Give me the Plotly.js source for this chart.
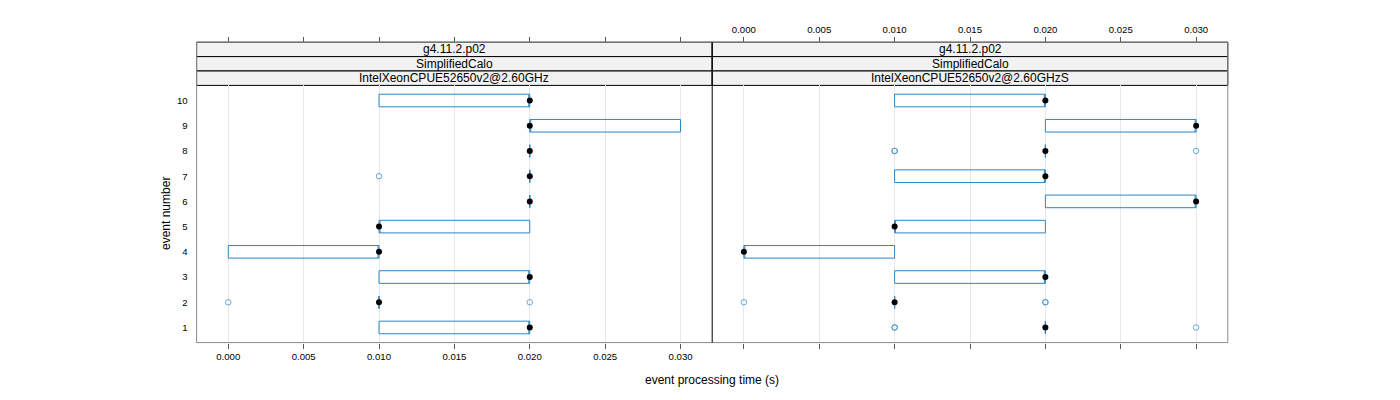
<!DOCTYPE html>
<html>
<head>
<meta charset="utf-8">
<script src="https://cdn.plot.ly/plotly-3.0.1.min.js"></script>
<style>html,body{margin:0;padding:0;background:#fff}#chart{width:1400px;height:400px}</style>
</head>
<body>
<div id="chart"></div>
<script>
// ---- data ----
const events = [1, 2, 3, 4, 5, 6, 7, 8, 9, 10];
const tickVals = [0, 0.005, 0.010, 0.015, 0.020, 0.025, 0.030];
const tickText = ["0.000", "0.005", "0.010", "0.015", "0.020", "0.025", "0.030"];

const stripLevel1 = ["g4.11.2.p02", "g4.11.2.p02"];
const stripLevel2 = ["SimplifiedCalo", "SimplifiedCalo"];
const stripLevel3 = ["IntelXeonCPUE52650v2@2.60GHz", "IntelXeonCPUE52650v2@2.60GHzS"];

// panel 1
const leftQ1     = [0.010, 0.010, 0.010, 0.000, 0.010, 0.020, 0.020, 0.020, 0.020, 0.010];
const leftMedian = [0.020, 0.010, 0.020, 0.010, 0.010, 0.020, 0.020, 0.020, 0.020, 0.020];
const leftQ3     = [0.020, 0.010, 0.020, 0.010, 0.020, 0.020, 0.020, 0.020, 0.030, 0.020];
const leftOutX   = [0.000, 0.020, 0.010];
const leftOutY   = [2, 2, 7];

// panel 2
const rightQ1     = [0.020, 0.010, 0.010, 0.000, 0.010, 0.020, 0.010, 0.020, 0.020, 0.010];
const rightMedian = [0.020, 0.010, 0.020, 0.000, 0.010, 0.030, 0.020, 0.020, 0.030, 0.020];
const rightQ3     = [0.020, 0.010, 0.020, 0.010, 0.020, 0.030, 0.020, 0.020, 0.030, 0.020];
const rightOutX   = [0.010, 0.010, 0.030, 0.000, 0.020, 0.020, 0.010, 0.010, 0.030];
const rightOutY   = [1, 1, 1, 2, 2, 2, 8, 8, 8];

// ---- layout helpers ----
const W = 1400, H = 400;
const px = v => v / W;
const py = v => 1 - v / H;
const panelL = 196.6, panelM = 712.2, panelR = 1227.8;
const panelTop = 85.4, panelBot = 342.6;
const stripEdges = [42.2, 56.6, 71.0, 85.4];
const xr = [-0.0021, 0.0321];
const boxCol = "#2e86c1";
const frameCol = "#8a8a8a";
const FONT = "Liberation Sans, Arimo, Arial, sans-serif";

function boxTrace(q1, med, q3, xa) {
  return {
    type: "box", orientation: "h", y: events,
    q1: q1, median: med, q3: q3, lowerfence: q1, upperfence: q3,
    width: 0.5, whiskerwidth: 0, boxpoints: false,
    fillcolor: "rgba(255,255,255,0)",
    line: {color: boxCol, width: 1},
    xaxis: xa, yaxis: "y", hoverinfo: "skip", showlegend: false
  };
}
function dotTrace(x, y, xa) {
  return {type: "scatter", mode: "markers", x: x, y: y, xaxis: xa, yaxis: "y",
    marker: {color: "#000", size: 6, symbol: "circle"}, showlegend: false, hoverinfo: "skip"};
}
function outTrace(x, y, xa) {
  return {type: "scatter", mode: "markers", x: x, y: y, xaxis: xa, yaxis: "y",
    marker: {color: boxCol, size: 5.5, symbol: "circle-open", opacity: 0.7,
      line: {color: boxCol, width: 1}}, showlegend: false, hoverinfo: "skip"};
}

const traces = [
  boxTrace(leftQ1, leftMedian, leftQ3, "x"),
  boxTrace(rightQ1, rightMedian, rightQ3, "x2"),
  outTrace(leftOutX, leftOutY, "x"),
  outTrace(rightOutX, rightOutY, "x2"),
  dotTrace(leftMedian, events, "x"),
  dotTrace(rightMedian, events, "x2")
];

const tickFont = {family: FONT, size: 9.6, color: "#000"};
function xAxis(dom, labels, extra) {
  return Object.assign({
    domain: dom, range: xr, tickvals: tickVals, ticktext: tickText,
    showticklabels: labels, ticks: "outside", ticklen: 5, tickcolor: "#555", tickwidth: 1,
    showgrid: true, gridcolor: "#e8e8e8", gridwidth: 1, zeroline: false, showline: false,
    tickfont: tickFont, fixedrange: true
  }, extra);
}
const domL = [px(panelL), px(panelM)];
const domR = [px(panelM), px(panelR)];
const topPos = py(stripEdges[0]);

const shapes = [];
const annotations = [];
// strips
const strips = [stripLevel1, stripLevel2, stripLevel3];
[[panelL, panelM], [panelM, panelR]].forEach((p, i) => {
  for (let k = 0; k < 3; k++) {
    shapes.push({type: "rect", xref: "paper", yref: "paper",
      x0: px(p[0]), x1: px(p[1]), y0: py(stripEdges[k + 1]), y1: py(stripEdges[k]),
      fillcolor: "#f2f2f2", line: {color: "#000", width: 1}, layer: "below"});
    annotations.push({xref: "paper", yref: "paper", x: px((p[0] + p[1]) / 2),
      y: py((stripEdges[k] + stripEdges[k + 1]) / 2), text: strips[k][i], showarrow: false,
      font: {family: FONT, size: 12, color: "#000"}, xanchor: "center", yanchor: "middle"});
  }
});
// outer frame
shapes.push({type: "rect", xref: "paper", yref: "paper", x0: px(panelL), x1: px(panelR),
  y0: py(panelBot), y1: py(stripEdges[0]), line: {color: frameCol, width: 1}, fillcolor: "rgba(0,0,0,0)"});
// panel divider
shapes.push({type: "line", xref: "paper", yref: "paper", x0: px(panelM), x1: px(panelM),
  y0: py(panelBot), y1: py(stripEdges[0]), line: {color: "#000", width: 1}});

annotations.push({xref: "paper", yref: "paper", x: px(712), y: py(380),
  text: "event processing time (s)", showarrow: false,
  font: {family: FONT, size: 12, color: "#000"}, xanchor: "center", yanchor: "middle"});
annotations.push({xref: "paper", yref: "paper", x: px(166), y: py(214),
  text: "event number", showarrow: false, textangle: -90,
  font: {family: FONT, size: 12, color: "#000"}, xanchor: "center", yanchor: "middle"});

const layout = {
  width: W, height: H, margin: {l: 0, r: 0, t: 0, b: 0},
  paper_bgcolor: "#fff", plot_bgcolor: "rgba(0,0,0,0)",
  showlegend: false,
  xaxis: xAxis(domL, true, {anchor: "y", side: "bottom"}),
  xaxis2: xAxis(domR, false, {anchor: "y", side: "bottom"}),
  xaxis3: xAxis(domL, false, {overlaying: "x", anchor: "free", position: topPos, side: "top", showgrid: false}),
  xaxis4: xAxis(domR, true, {overlaying: "x2", anchor: "free", position: topPos, side: "top", showgrid: false}),
  yaxis: {domain: [py(panelBot), py(panelTop)], range: [0.4, 10.6], tickvals: events,
    ticktext: events.map(String), ticks: "", showgrid: false, zeroline: false, showline: false,
    tickfont: tickFont, ticklabelstandoff: 8, anchor: "x", fixedrange: true},
  shapes: shapes, annotations: annotations
};

// invisible traces to activate top axes
traces.push({type: "scatter", x: [0], y: [0], xaxis: "x3", yaxis: "y", mode: "markers",
  marker: {opacity: 0}, showlegend: false, hoverinfo: "skip"});
traces.push({type: "scatter", x: [0], y: [0], xaxis: "x4", yaxis: "y", mode: "markers",
  marker: {opacity: 0}, showlegend: false, hoverinfo: "skip"});

Plotly.newPlot("chart", traces, layout, {staticPlot: true, displayModeBar: false});
</script>
</body>
</html>
